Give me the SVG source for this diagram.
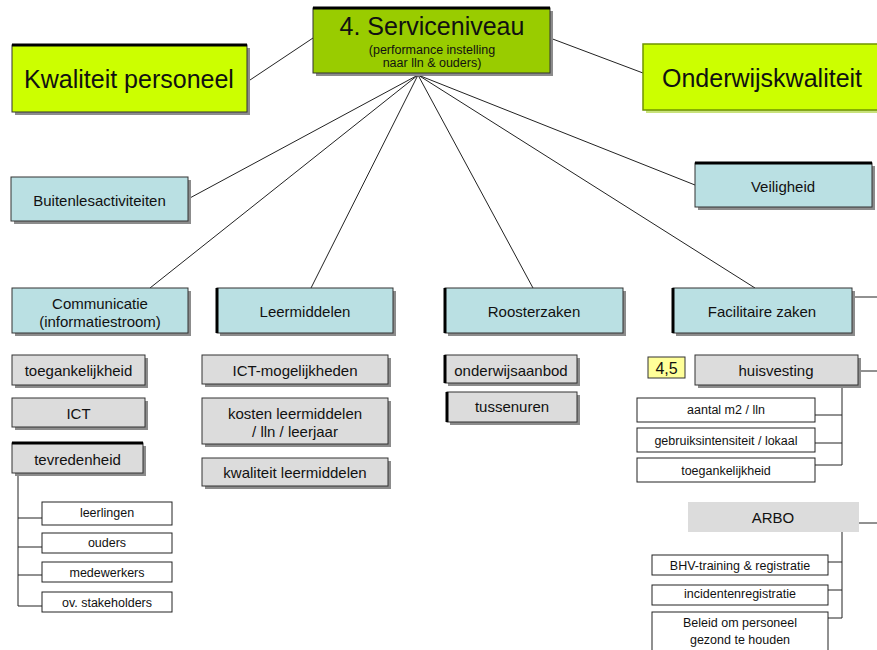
<svg xmlns="http://www.w3.org/2000/svg" width="877" height="650" viewBox="0 0 877 650">
  <style>
    text { font-family: "Liberation Sans", Arial, sans-serif; fill: #111; text-anchor: middle; }
    .big { font-size: 25px; }
    .mid { font-size: 15px; }
    .sm { font-size: 12.5px; }
    .shadow { fill: #8c8c8c; }
    .lime { fill: #ccff00; stroke: #333; stroke-width: 1; }
    .olive { fill: #99cc00; stroke: #333; stroke-width: 1; }
    .teal { fill: #bae0e3; stroke: #333; stroke-width: 1; }
    .grey { fill: #dcdcdc; stroke: #333; stroke-width: 1; }
    .white { fill: #ffffff; stroke: #222; stroke-width: 1; }
    .edge { stroke: #000; stroke-width: 3; fill: none; }
    .line { stroke: #222; stroke-width: 1; fill: none; }
  </style>

  <!-- connectors -->
  <g id="connectors" class="line">
    <line x1="313" y1="38" x2="247" y2="82"/>
    <line x1="550" y1="38" x2="643" y2="73"/>
    <line x1="418" y1="75" x2="188" y2="199"/>
    <line x1="418" y1="75" x2="150" y2="288"/>
    <line x1="418" y1="75" x2="311" y2="288"/>
    <line x1="418" y1="75" x2="533" y2="288"/>
    <line x1="418" y1="75" x2="755" y2="288"/>
    <line x1="418" y1="75" x2="695" y2="185"/>
    <line x1="852" y1="297" x2="877" y2="297"/>
    <line x1="858" y1="371" x2="877" y2="371"/>
    <line x1="859" y1="523" x2="877" y2="523"/>
    <!-- huisvesting branch -->
    <polyline points="842,385 842,465 815,465"/>
    <line x1="815" y1="415" x2="842" y2="415"/>
    <line x1="815" y1="443" x2="842" y2="443"/>
    <!-- ARBO branch -->
    <polyline points="842,532 842,618 828,618"/>
    <line x1="828" y1="562" x2="842" y2="562"/>
    <line x1="828" y1="590" x2="842" y2="590"/>
    <!-- tevredenheid branch -->
    <polyline points="18,473 18,606 42,606"/>
    <line x1="18" y1="518" x2="42" y2="518"/>
    <line x1="18" y1="547" x2="42" y2="547"/>
    <line x1="18" y1="575" x2="42" y2="575"/>
  </g>

  <!-- top level -->
  <g id="serviceniveau">
    <rect class="shadow" x="316" y="11" width="237" height="65"/>
    <rect class="olive" x="313" y="8" width="237" height="65"/>
    <line class="edge" x1="313" y1="8" x2="550" y2="8"/>
    <text class="big" x="432" y="35">4. Serviceniveau</text>
    <text class="sm" x="432" y="54">(performance instelling</text>
    <text class="sm" x="432" y="67">naar lln &amp; ouders)</text>
  </g>
  <g id="kwaliteit-personeel">
    <rect class="shadow" x="15" y="48" width="235" height="67"/>
    <rect class="lime" x="12" y="45" width="235" height="67"/>
    <line class="edge" x1="12" y1="45" x2="247" y2="45"/>
    <text class="big" x="129" y="88">Kwaliteit personeel</text>
  </g>
  <g id="onderwijskwaliteit">
    <rect x="646" y="47" width="240" height="66" fill="#c8e27a"/>
    <rect x="643" y="44" width="240" height="66" fill="#ccff00" stroke="#6f9400" stroke-width="1.5"/>
    <text class="big" x="762" y="87">Onderwijskwaliteit</text>
  </g>

  <!-- second level -->
  <g id="buitenlesactiviteiten">
    <rect class="shadow" x="14" y="180" width="177" height="44"/>
    <rect class="teal" x="11" y="177" width="177" height="44"/>
    <text class="mid" x="99.5" y="206">Buitenlesactiviteiten</text>
  </g>
  <g id="veiligheid">
    <rect class="shadow" x="698" y="166" width="177" height="44"/>
    <rect class="teal" x="695" y="163" width="177" height="44"/>
    <line class="edge" x1="695" y1="163" x2="872" y2="163"/>
    <text class="mid" x="783" y="192">Veiligheid</text>
  </g>
  <g id="communicatie">
    <rect class="shadow" x="15" y="291" width="176" height="45"/>
    <rect class="teal" x="12" y="288" width="176" height="45"/>
    <text class="mid" x="100" y="309">Communicatie</text>
    <text class="mid" x="100" y="327">(informatiestroom)</text>
  </g>
  <g id="leermiddelen">
    <rect class="shadow" x="220" y="291" width="176" height="45"/>
    <rect class="teal" x="217" y="288" width="176" height="45"/>
    <line class="edge" x1="217" y1="288" x2="217" y2="333"/>
    <text class="mid" x="305" y="317">Leermiddelen</text>
  </g>
  <g id="roosterzaken">
    <rect class="shadow" x="448" y="291" width="178" height="45"/>
    <rect class="teal" x="445" y="288" width="178" height="45"/>
    <line class="edge" x1="445" y1="288" x2="445" y2="333"/>
    <text class="mid" x="534" y="317">Roosterzaken</text>
  </g>
  <g id="facilitaire-zaken">
    <rect class="shadow" x="676" y="291" width="179" height="45"/>
    <rect class="teal" x="673" y="288" width="179" height="45"/>
    <line class="edge" x1="673" y1="288" x2="673" y2="333"/>
    <text class="mid" x="762" y="317">Facilitaire zaken</text>
  </g>

  <!-- Communicatie items -->
  <g id="toegankelijkheid">
    <rect class="shadow" x="15" y="358" width="133" height="30"/>
    <rect class="grey" x="12" y="355" width="133" height="30"/>
    <text class="mid" x="78.5" y="376">toegankelijkheid</text>
  </g>
  <g id="ict">
    <rect class="shadow" x="15" y="401" width="133" height="29"/>
    <rect class="grey" x="12" y="398" width="133" height="29"/>
    <text class="mid" x="78.5" y="419">ICT</text>
  </g>
  <g id="tevredenheid">
    <rect class="shadow" x="15" y="446" width="131" height="30"/>
    <rect class="grey" x="12" y="443" width="131" height="30"/>
    <line class="edge" x1="12" y1="443" x2="143" y2="443"/>
    <text class="mid" x="77.5" y="465">tevredenheid</text>
  </g>
  <g id="leerlingen">
    <rect class="white" x="42" y="502" width="130" height="23"/>
    <text class="sm" x="107" y="517">leerlingen</text>
  </g>
  <g id="ouders">
    <rect class="white" x="42" y="533" width="130" height="20"/>
    <text class="sm" x="107" y="547">ouders</text>
  </g>
  <g id="medewerkers">
    <rect class="white" x="42" y="562" width="130" height="20"/>
    <text class="sm" x="107" y="577">medewerkers</text>
  </g>
  <g id="ov-stakeholders">
    <rect class="white" x="42" y="592" width="130" height="20"/>
    <text class="sm" x="107" y="607">ov. stakeholders</text>
  </g>

  <!-- Leermiddelen items -->
  <g id="ict-mogelijkheden">
    <rect class="shadow" x="205" y="358" width="186" height="29"/>
    <rect class="grey" x="202" y="355" width="186" height="29"/>
    <text class="mid" x="295" y="376">ICT-mogelijkheden</text>
  </g>
  <g id="kosten-leermiddelen">
    <rect class="shadow" x="205" y="401" width="186" height="46"/>
    <rect class="grey" x="202" y="398" width="186" height="46"/>
    <text class="mid" x="295" y="419">kosten leermiddelen</text>
    <text class="mid" x="295" y="437">/ lln / leerjaar</text>
  </g>
  <g id="kwaliteit-leermiddelen">
    <rect class="shadow" x="205" y="461" width="186" height="28"/>
    <rect class="grey" x="202" y="458" width="186" height="28"/>
    <text class="mid" x="295" y="478">kwaliteit leermiddelen</text>
  </g>

  <!-- Roosterzaken items -->
  <g id="onderwijsaanbod">
    <rect class="shadow" x="448" y="358" width="132" height="28"/>
    <rect class="grey" x="445" y="355" width="132" height="28"/>
    <line class="edge" x1="445" y1="355" x2="445" y2="383"/>
    <text class="mid" x="511" y="376">onderwijsaanbod</text>
  </g>
  <g id="tussenuren">
    <rect class="shadow" x="450" y="395" width="130" height="30"/>
    <rect class="grey" x="447" y="392" width="130" height="30"/>
    <line class="edge" x1="447" y1="392" x2="447" y2="422"/>
    <text class="mid" x="512" y="412">tussenuren</text>
  </g>

  <!-- Facilitaire zaken items -->
  <g id="label-4-5">
    <rect x="648" y="357" width="37" height="21" fill="#ffff99" stroke="#333" stroke-width="1"/>
    <text x="666.5" y="374" style="font-size:16px">4,5</text>
  </g>
  <g id="huisvesting">
    <rect class="shadow" x="698" y="358" width="163" height="30"/>
    <rect class="grey" x="695" y="355" width="163" height="30"/>
    <text class="mid" x="776" y="376">huisvesting</text>
  </g>
  <g id="aantal-m2">
    <rect class="white" x="637" y="398" width="178" height="24"/>
    <text class="sm" x="726" y="414">aantal m2 / lln</text>
  </g>
  <g id="gebruiksintensiteit">
    <rect class="white" x="637" y="428" width="178" height="24"/>
    <text class="sm" x="726" y="445">gebruiksintensiteit / lokaal</text>
  </g>
  <g id="toegankelijkheid-huisvesting">
    <rect class="white" x="637" y="458" width="178" height="24"/>
    <text class="sm" x="726" y="475">toegankelijkheid</text>
  </g>
  <g id="arbo">
    <rect x="688" y="502" width="171" height="30" fill="#dcdcdc"/>
    <text class="mid" x="773" y="523">ARBO</text>
  </g>
  <g id="bhv-training">
    <rect class="white" x="652" y="555" width="176" height="20"/>
    <text class="sm" x="740" y="570">BHV-training &amp; registratie</text>
  </g>
  <g id="incidentenregistratie">
    <rect class="white" x="652" y="585" width="176" height="20"/>
    <text class="sm" x="740" y="598">incidentenregistratie</text>
  </g>
  <g id="beleid">
    <rect class="white" x="652" y="612" width="176" height="40"/>
    <text class="sm" x="740" y="627">Beleid om personeel</text>
    <text class="sm" x="740" y="644">gezond te houden</text>
  </g>
</svg>
